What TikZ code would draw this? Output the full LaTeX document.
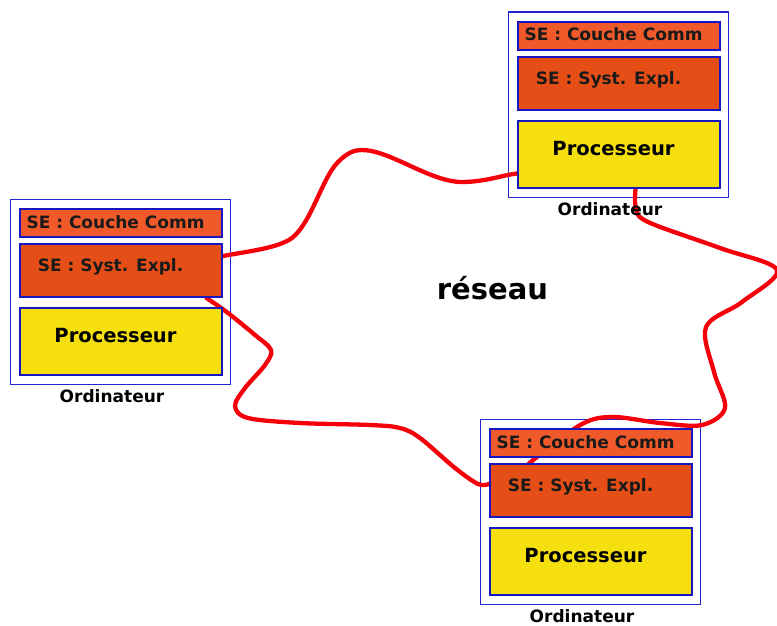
\documentclass[tikz,border=0pt]{standalone}
\usepackage{fontspec}
\setmainfont{DejaVu Sans}
\usetikzlibrary{calc}
\pgfdeclarelayer{frames}
\pgfdeclarelayer{wires}
\pgfsetlayers{frames,wires,main}
\definecolor{frameblue}{RGB}{22,22,195}
\definecolor{casingblue}{RGB}{35,35,210}
\definecolor{commfill}{RGB}{240,89,42}
\definecolor{sysfill}{RGB}{229,79,23}
\definecolor{cpufill}{RGB}{245,223,15}
\definecolor{wirered}{RGB}{245,0,10}
\definecolor{labelink}{RGB}{26,26,26}
\tikzset{
  unit/.style={draw=frameblue, line width=2pt, inner sep=0, anchor=north west, minimum width=202pt},
  commbox/.style={unit, fill=commfill, minimum height=28pt},
  sysbox/.style={unit, fill=sysfill, minimum height=53pt},
  cpubox/.style={unit, fill=cpufill, minimum height=67pt},
  casing/.style={draw=casingblue, line width=1.5pt, inner sep=0, anchor=north west, minimum width=220pt, minimum height=185pt},
  selabel/.style={font=\bfseries\fontsize{17}{20}\selectfont, text=labelink, inner sep=0, anchor=base},
  cpulabel/.style={font=\bfseries\fontsize{19.5}{22}\selectfont, inner sep=0, anchor=base},
  caption/.style={font=\bfseries\fontsize{17}{20}\selectfont, inner sep=0, anchor=base},
  netlabel/.style={font=\bfseries\fontsize{29}{32}\selectfont, inner sep=0, anchor=base},
  wire/.style={draw=wirered, line width=4.3pt, line cap=round, line join=round},
}
% one computer: #1 name prefix, (#2,#3) top-left corner of its casing
\newcommand\ordinateur[3]{%
  \begin{scope}[shift={(#2,#3)}]
    \begin{pgfonlayer}{frames}
      \node[casing] (#1-case) at (0.5,0.5) {};
    \end{pgfonlayer}
    \node[commbox] (#1-comm) at (10,10) {};
    \node[sysbox]  (#1-sys)  at (10,45) {};
    \node[cpubox]  (#1-cpu)  at (10,109) {};
    \node[selabel]  (#1-commtxt) at (106.5,30) {SE : Couche Comm};
    \node[selabel]  (#1-systxt)  at (101.5,73.5) {SE : Syst. Expl.};
    \node[cpulabel] (#1-cputxt)  at (106.5,144) {Processeur};
    \node[caption]  (#1-name)    at (103,204.5) {Ordinateur};
  \end{scope}}
\begin{document}
\begin{tikzpicture}[x=1pt, y=-1pt]
  \useasboundingbox (0,0) rectangle (777,626);
  \ordinateur{L}{9}{198}
  \ordinateur{T}{507}{11}
  \ordinateur{B}{479}{418}
  \node[netlabel] (net) at (492.5,299) {réseau};
  \begin{pgfonlayer}{wires}
    % left machine to top machine
    \draw[wire] ([yshift=14.5pt]L-sys.east)
      .. controls (250,251) and (278,248) .. (292,238)
      .. controls (312,222) and (322,178) .. (338,162)
      .. controls (348,152) and (355,150) .. (362,150)
      .. controls (390,150) and (430,182) .. (462,182)
      .. controls (485,182) and (503,175) .. ([yshift=-19pt]T-cpu.west);
    % top machine round the right to bottom machine
    \draw[wire] plot[smooth, tension=0.55] coordinates {
      ([xshift=16.5pt]T-cpu.south) (636,208) (648,222) (720,248) (777,270)
      (742,302) (706,327) (714,372) (725,408) (702,425) (660,423) (613,417)
      (582,424) (537,457) ([xshift=32pt,yshift=-8pt]B-sys.north west)};
    % bottom machine back to left machine
    \draw[wire] plot[smooth, tension=0.55] coordinates {
      ([yshift=6.5pt]B-sys.west) (478,484) (455,468) (420,438) (400,428)
      (370,425) (300,423) (248,418) (235,406) (245,388) (265,365) (271,350)
      (255,335) (228,313) ([xshift=85.5pt]L-sys.south)};
  \end{pgfonlayer}
\end{tikzpicture}
\end{document}
